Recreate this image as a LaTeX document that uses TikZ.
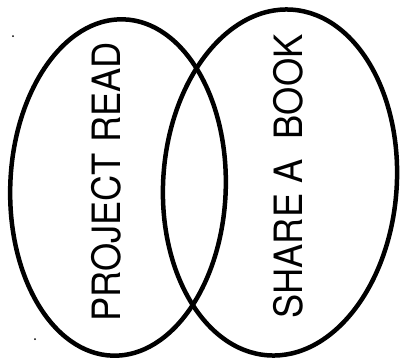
\documentclass[tikz,border=0pt]{standalone}
\usepackage{fontspec}
\setmainfont{TeX Gyre Heros}
\usetikzlibrary{shapes.geometric}
\begin{document}
\begin{tikzpicture}[x=1pt,y=-1pt,
  setshape/.style={draw, ellipse, line width=4.5pt, inner sep=0pt},
  lab/.style={rotate=90, font=\fontsize{39}{39}\selectfont, inner sep=0pt}]
\useasboundingbox (0,0) rectangle (400,362);
\node[setshape, minimum width=215.5pt, minimum height=336.5pt, rotate=-2] (pr) at (118,187.5) {};
\node[setshape, minimum width=233.5pt, minimum height=346.5pt, rotate=-4] (sb) at (280,182.5) {};
\node[lab] (t1) at (106,182) {\scalebox{0.93}[1]{PROJECT READ}};
\node[lab] (t2) at (288,176.5) {\scalebox{0.93}[1]{SHARE A\hspace{0.56em}BOOK}};
\fill (13,36) circle (1pt);
\fill (35,339) circle (1pt);
\end{tikzpicture}
\end{document}
